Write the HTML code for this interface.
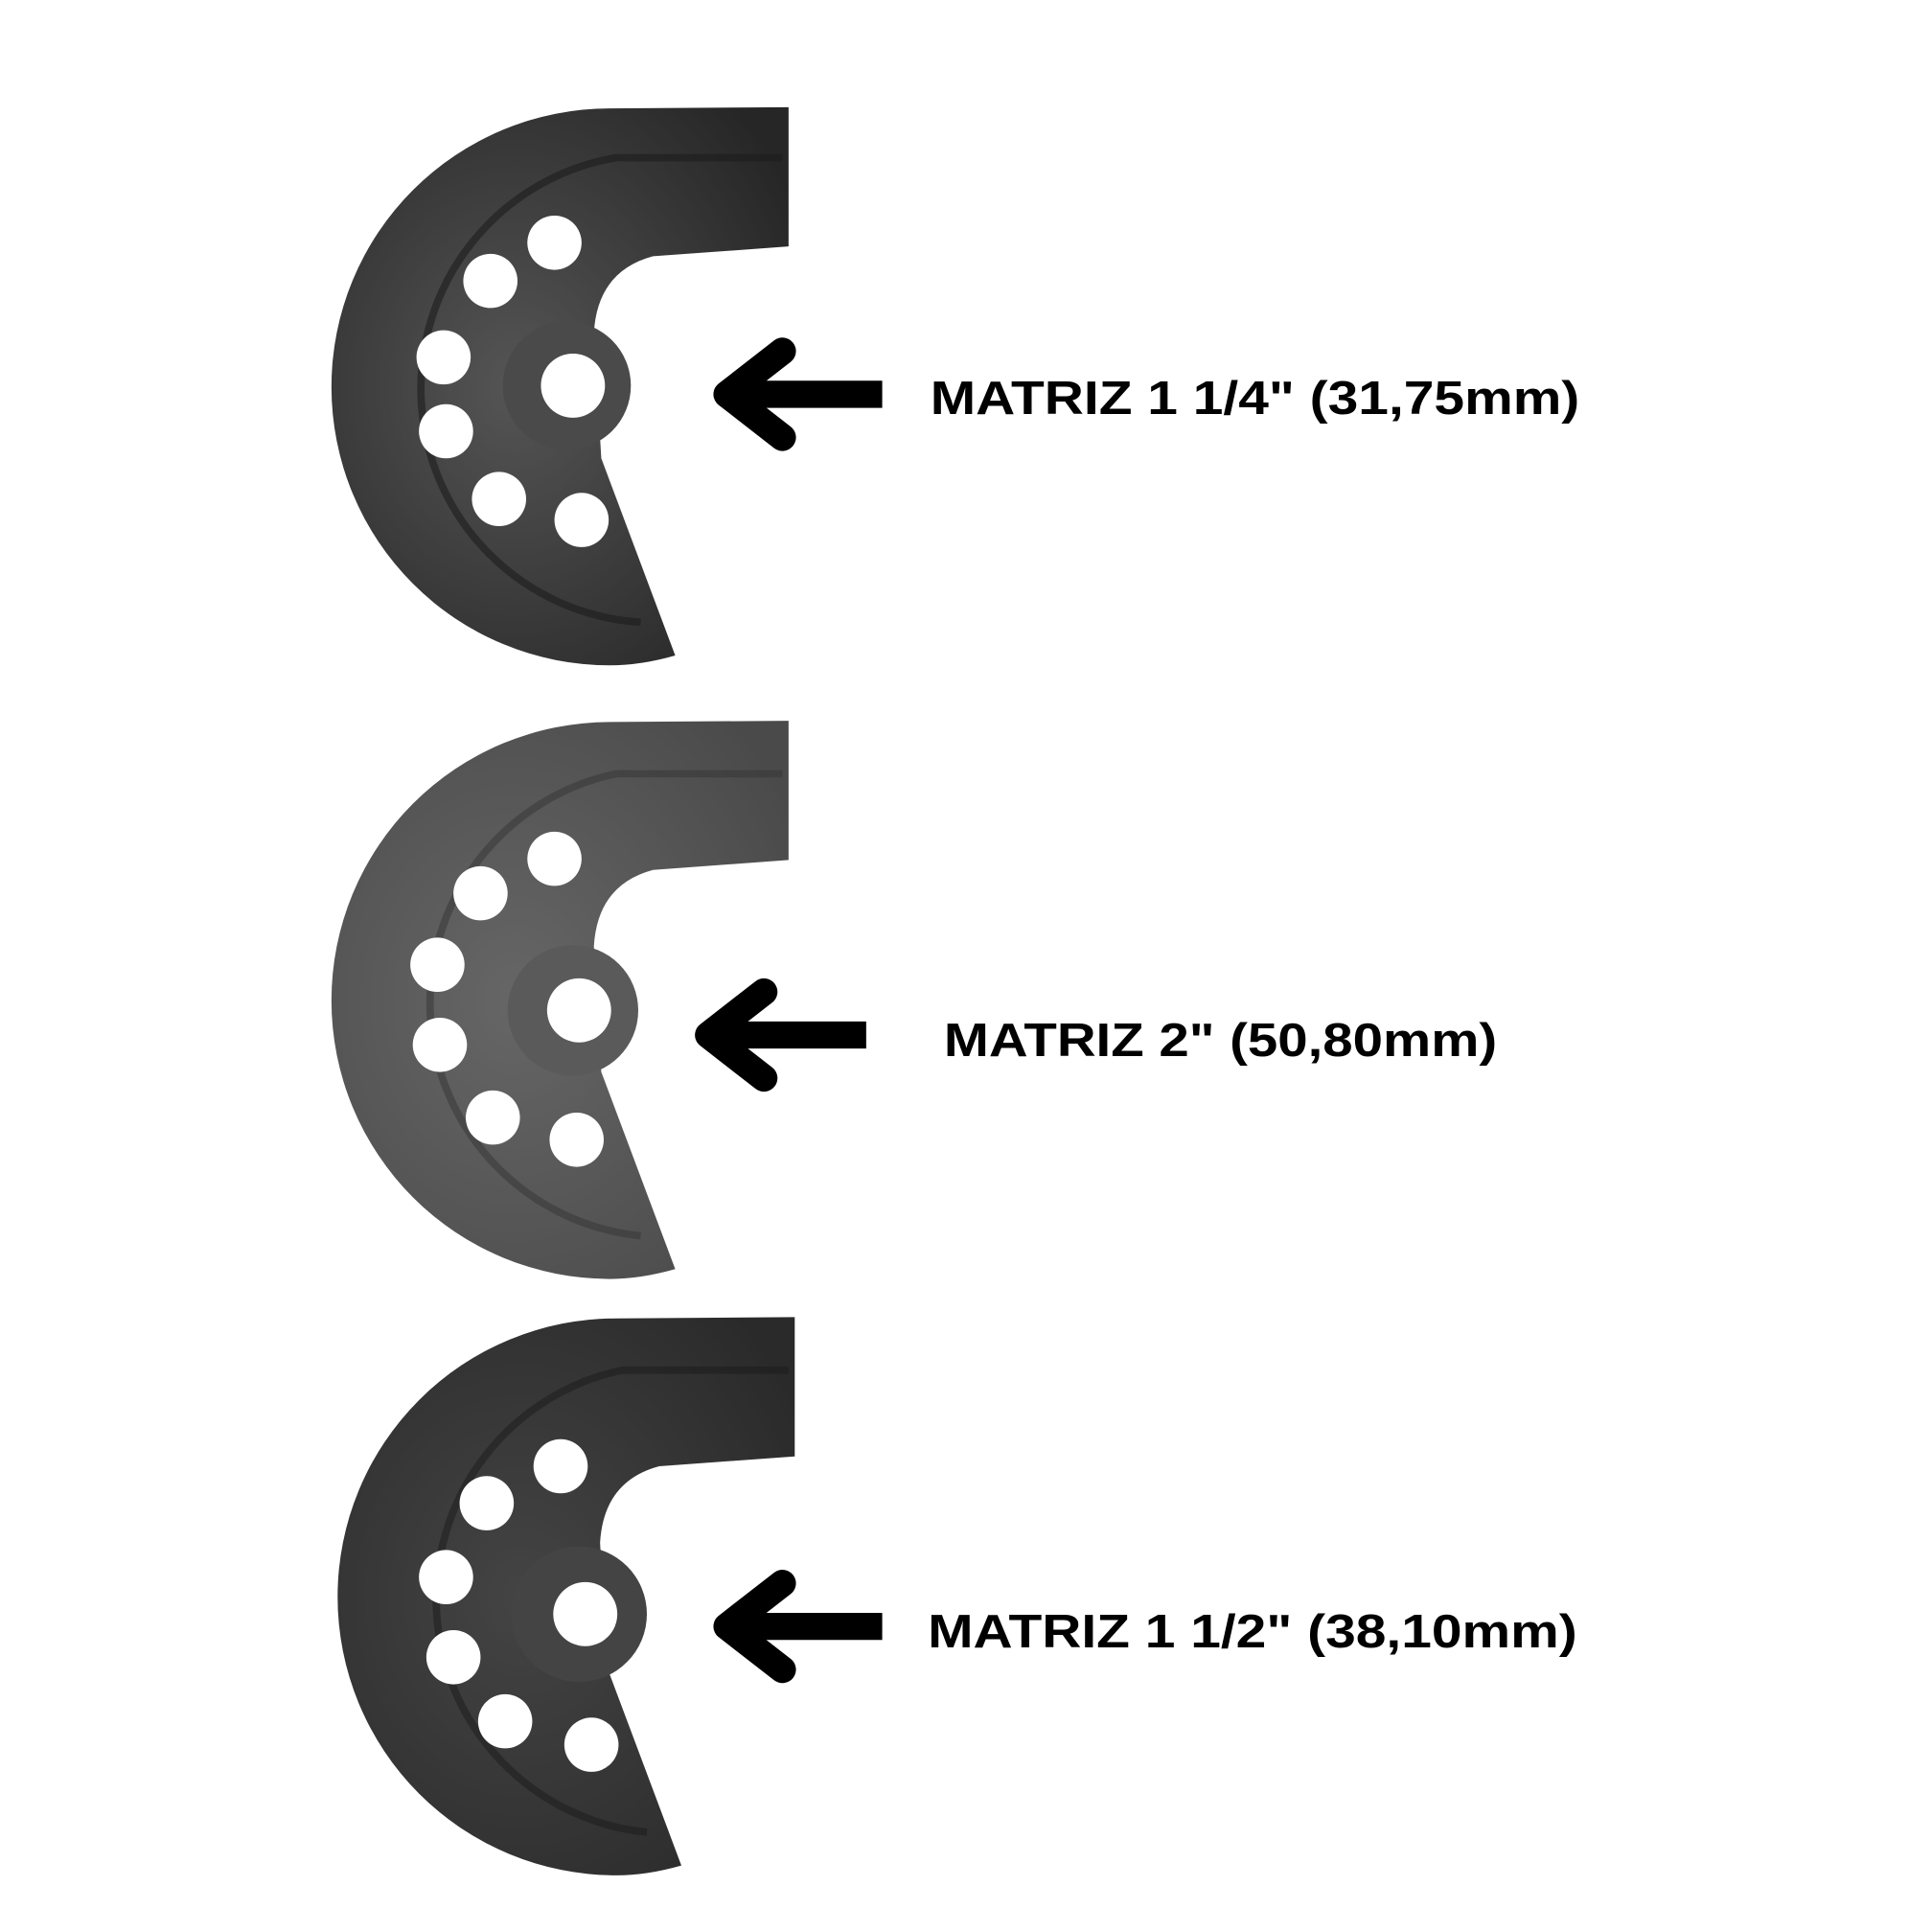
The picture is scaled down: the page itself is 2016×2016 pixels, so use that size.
<!DOCTYPE html>
<html><head><meta charset="utf-8"><style>html,body{margin:0;padding:0;background:#fff}svg{display:block}</style></head>
<body>
<svg width="2016" height="2016" viewBox="0 0 1568 1568" xmlns="http://www.w3.org/2000/svg">
<defs>
<radialGradient id="g1" cx="0.4" cy="0.5" r="0.7"><stop offset="0" stop-color="#555"/><stop offset="1" stop-color="#262626"/></radialGradient>
<radialGradient id="g2" cx="0.4" cy="0.5" r="0.7"><stop offset="0" stop-color="#666"/><stop offset="1" stop-color="#4a4a4a"/></radialGradient>
<radialGradient id="g3" cx="0.4" cy="0.5" r="0.7"><stop offset="0" stop-color="#444"/><stop offset="1" stop-color="#2a2a2a"/></radialGradient>
<g id="die">
<path d="M640,87 L640,200 L530,208 Q485,220 482,270 L488,372 L548,532 Q520,540 495,540 A226,226 0 0 1 495,88 Z"/>
</g>
</defs>
<!-- Die 1 -->
<g fill="url(#g1)"><use href="#die"/></g>
<path d="M635,128 L500,128 A190,190 0 0 0 520,505" fill="none" stroke="#1c1c1c" stroke-width="6" opacity="0.6"/>
<g fill="#fff">
<circle cx="398" cy="228" r="22"/><circle cx="450" cy="197" r="22"/><circle cx="360" cy="290" r="22"/><circle cx="362" cy="350" r="22"/><circle cx="405" cy="405" r="22"/><circle cx="472" cy="422" r="22"/></g>
<circle cx="460" cy="313" r="52" fill="#4a4a4a"/><circle cx="465" cy="313" r="26" fill="#fff"/>
<!-- Die 2 -->
<g transform="translate(0,498)" fill="url(#g2)"><use href="#die"/></g>
<path d="M635,628 L500,628 A190,190 0 0 0 520,1003" fill="none" stroke="#333" stroke-width="6" opacity="0.5"/>
<g fill="#fff">
<circle cx="390" cy="725" r="22"/><circle cx="450" cy="697" r="22"/><circle cx="355" cy="783" r="22"/><circle cx="357" cy="848" r="22"/><circle cx="400" cy="907" r="22"/><circle cx="468" cy="925" r="22"/></g>
<circle cx="465" cy="820" r="53" fill="#5a5a5a"/><circle cx="470" cy="820" r="26" fill="#fff"/>
<!-- Die 3 -->
<g transform="translate(5,982)" fill="url(#g3)"><use href="#die"/></g>
<path d="M640,1112 L505,1112 A190,190 0 0 0 525,1487" fill="none" stroke="#1a1a1a" stroke-width="6" opacity="0.5"/>
<g fill="#fff">
<circle cx="395" cy="1220" r="22"/><circle cx="455" cy="1190" r="22"/><circle cx="362" cy="1280" r="22"/><circle cx="368" cy="1345" r="22"/><circle cx="410" cy="1397" r="22"/><circle cx="480" cy="1416" r="22"/></g>
<circle cx="470" cy="1310" r="55" fill="#444"/><circle cx="475" cy="1310" r="26" fill="#fff"/>
<!-- Arrows -->
<g stroke="#000" stroke-width="22" fill="none" stroke-linecap="round" stroke-linejoin="round">
<path d="M635,285 L590,320 L635,355"/><path d="M600,320 H716" stroke-linecap="butt"/>
<path d="M620,805 L575,840 L620,875"/><path d="M585,840 H703" stroke-linecap="butt"/>
<path d="M635,1285 L590,1320 L635,1355"/><path d="M600,1320 H716" stroke-linecap="butt"/>
</g>
<g font-family="Liberation Sans, sans-serif" font-weight="bold" font-size="38" fill="#000">
<text x="755" y="336" textLength="527" lengthAdjust="spacingAndGlyphs">MATRIZ 1 1/4" (31,75mm)</text>
<text x="766" y="857" textLength="449" lengthAdjust="spacingAndGlyphs">MATRIZ 2" (50,80mm)</text>
<text x="753" y="1337" textLength="527" lengthAdjust="spacingAndGlyphs">MATRIZ 1 1/2" (38,10mm)</text>
</g>
</svg>
</body></html>
